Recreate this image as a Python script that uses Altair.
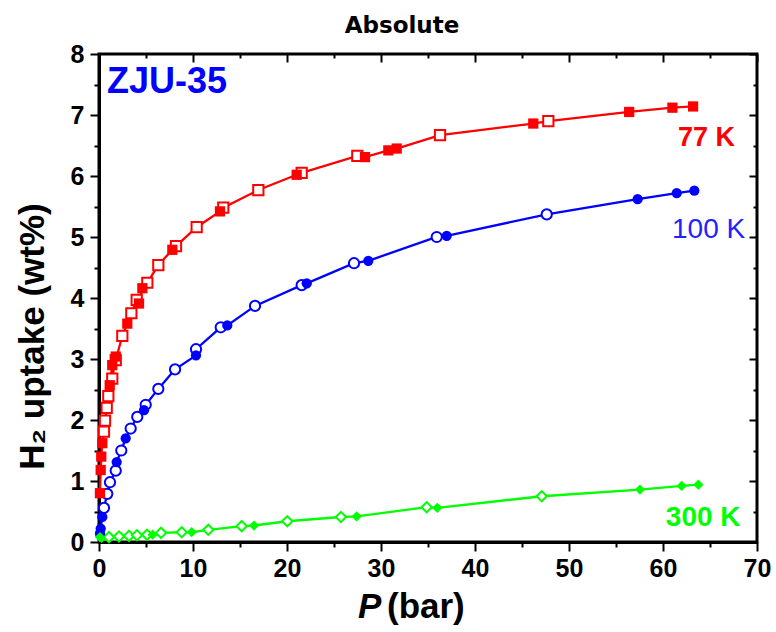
import altair as alt
import pandas as pd

# ---------------- data ----------------
series = ["77 K", "100 K", "300 K"]
series_colors = ["#FF0000", "#0000FF", "#00FF00"]
series_shapes = ["square", "circle", "diamond"]
open_sizes = [105, 105, 290]
filled_sizes = [100, 100, 270]

# 77 K  (squares)
p77_ads = [0.1, 0.18, 0.24, 0.35, 1.14, 1.41, 1.78, 3.01, 4.26, 4.61, 7.8, 12.87,
           21.03, 28.3, 30.78, 31.67, 46.2, 56.4, 61.0, 63.2]
u77_ads = [0.80, 1.18, 1.40, 1.62, 2.57, 2.90, 3.04, 3.58, 3.91, 4.16, 4.79, 5.42,
           6.02, 6.31, 6.42, 6.45, 6.86, 7.05, 7.12, 7.14]
p77_des = [0.53, 0.64, 0.82, 0.99, 1.41, 1.78, 2.48, 3.44, 4.01, 5.14, 6.31, 8.19,
           10.39, 13.22, 16.95, 21.56, 27.48, 36.28, 47.8]
u77_des = [1.81, 1.99, 2.20, 2.39, 2.68, 2.98, 3.38, 3.75, 3.97, 4.25, 4.54, 4.85,
           5.16, 5.48, 5.77, 6.05, 6.33, 6.67, 6.90]

# 100 K (circles)
p100_ads = [0.1, 0.18, 0.35, 1.88, 2.84, 4.79, 10.32, 13.65, 22.1, 28.65, 36.99,
            57.3, 61.46, 63.33]
u100_ads = [0.14, 0.22, 0.41, 1.31, 1.70, 2.16, 3.06, 3.55, 4.24, 4.61, 5.02,
            5.62, 5.72, 5.76]
p100_des = [0.53, 0.88, 1.17, 1.78, 2.37, 3.37, 4.07, 4.97, 6.31, 8.09, 10.32,
            12.95, 16.6, 21.56, 27.13, 35.93, 47.63]
u100_des = [0.56, 0.79, 0.98, 1.17, 1.50, 1.86, 2.05, 2.25, 2.51, 2.83, 3.16,
            3.52, 3.87, 4.21, 4.57, 5.00, 5.37]

# 300 K (diamonds)
p300_ads = [0.1, 5.7, 9.86, 16.49, 27.41, 35.99, 57.55, 61.99, 63.76]
u300_ads = [0.08, 0.12, 0.16, 0.27, 0.42, 0.56, 0.86, 0.92, 0.94]
p300_des = [0.29, 1.06, 2.13, 3.19, 4.04, 5.11, 6.6, 8.8, 11.63, 15.18, 20.03,
            25.74, 34.86, 47.1]
u300_des = [0.09, 0.08, 0.09, 0.10, 0.11, 0.12, 0.15, 0.16, 0.20, 0.26, 0.34,
            0.41, 0.57, 0.75]

# in-plot annotations
ann_text = ["ZJU-35", "77 K", "100 K", "300 K"]
ann_x = [0.85, 61.6, 60.96, 60.3]
ann_y = [7.36, 6.49, 4.99, 0.27]
ann_color = ["#0000FF", "#FF0000", "#2222FF", "#00FF00"]

x_major = [0, 10, 20, 30, 40, 50, 60, 70]
x_minor = [5, 15, 25, 35, 45, 55, 65]
y_major = [0, 1, 2, 3, 4, 5, 6, 7, 8]
y_minor = [0.5, 1.5, 2.5, 3.5, 4.5, 5.5, 6.5, 7.5]

# ---------------- tables ----------------
rows = []
for T, kind, P, U in [
    ("77 K", "ads", p77_ads, u77_ads), ("77 K", "des", p77_des, u77_des),
    ("100 K", "ads", p100_ads, u100_ads), ("100 K", "des", p100_des, u100_des),
    ("300 K", "ads", p300_ads, u300_ads), ("300 K", "des", p300_des, u300_des),
]:
    for p, u in zip(P, U):
        rows.append({"T": T, "kind": kind, "P": p, "U": u})
df = pd.DataFrame(rows)
df_ads = df[df.kind == "ads"]
df_des = df[df.kind == "des"]

FONT = "Liberation Sans, Arial, Helvetica, sans-serif"

xs = alt.Scale(domain=[0, 70], nice=False, zero=False)
ys = alt.Scale(domain=[0, 8], nice=False, zero=False)
cscale = alt.Scale(domain=series, range=series_colors)
sscale = alt.Scale(domain=series, range=series_shapes)

common = dict(grid=False, title=None, tickColor="black", tickWidth=2)

ax_bottom_major = alt.Axis(orient="bottom", values=x_major, tickSize=9, domain=True,
                           domainColor="black", domainWidth=3, labelFont=FONT,
                           labelFontSize=25, labelFontWeight="bold", labelColor="black",
                           labelPadding=5, labelFlush=False, labelOverlap=False, **common)
ax_bottom_minor = alt.Axis(orient="bottom", values=x_minor, tickSize=5, domain=False,
                           labels=False, **common)
ax_top_major = alt.Axis(orient="top", values=x_major, tickSize=8, offset=-8,
                        domain=False, labels=False, **common)
ax_top_minor = alt.Axis(orient="top", values=x_minor, tickSize=4, offset=-4,
                        domain=False, labels=False, **common)

ax_left_major = alt.Axis(orient="left", values=y_major, tickSize=9, domain=True,
                         domainColor="black", domainWidth=3, labelFont=FONT,
                         labelFontSize=25, labelFontWeight="bold", labelColor="black",
                         labelPadding=6, labelFlush=False, labelOverlap=False,
                         grid=False, tickColor="black", tickWidth=2,
                         title="H\u2082 uptake (wt%)", titleFont=FONT, titleFontSize=35,
                         titleFontWeight="bold", titleColor="black", titleAngle=270,
                         titleX=-56, titleY=282, titleAlign="center",
                         titleBaseline="alphabetic")
ax_left_minor = alt.Axis(orient="left", values=y_minor, tickSize=5, domain=False,
                         labels=False, **common)
ax_right_major = alt.Axis(orient="right", values=y_major, tickSize=8, offset=-8,
                          domain=False, labels=False, **common)
ax_right_minor = alt.Axis(orient="right", values=y_minor, tickSize=4, offset=-4,
                          domain=False, labels=False, **common)

lines = alt.Chart(df).mark_line(strokeWidth=2.3).encode(
    x=alt.X("P:Q", scale=xs, axis=ax_bottom_major),
    y=alt.Y("U:Q", scale=ys, axis=ax_left_major),
    color=alt.Color("T:N", scale=cscale, legend=None),
    order=alt.Order("P:Q"),
)

open_pts = alt.Chart(df_des).mark_point(filled=True, strokeWidth=2, opacity=1).encode(
    x=alt.X("P:Q", scale=xs, axis=ax_bottom_minor),
    y=alt.Y("U:Q", scale=ys, axis=ax_left_minor),
    fill=alt.value("white"),
    stroke=alt.Stroke("T:N", scale=cscale, legend=None),
    shape=alt.Shape("T:N", scale=sscale, legend=None),
    size=alt.Size("T:N", scale=alt.Scale(domain=series, range=open_sizes), legend=None),
)

filled_pts = alt.Chart(df_ads).mark_point(filled=True, opacity=1).encode(
    x=alt.X("P:Q", scale=xs, axis=ax_top_major),
    y=alt.Y("U:Q", scale=ys, axis=ax_right_major),
    color=alt.Color("T:N", scale=cscale, legend=None),
    shape=alt.Shape("T:N", scale=sscale, legend=None),
    size=alt.Size("T:N", scale=alt.Scale(domain=series, range=filled_sizes), legend=None),
)


def ann_layer(i, weight, size, axis_x=None, axis_y=None):
    d = pd.DataFrame({"label": [ann_text[i]], "P": [ann_x[i]], "U": [ann_y[i]]})
    return alt.Chart(d).mark_text(align="left", baseline="alphabetic", font=FONT,
                                  fontSize=size, fontWeight=weight,
                                  color=ann_color[i]).encode(
        x=alt.X("P:Q", scale=xs, axis=axis_x),
        y=alt.Y("U:Q", scale=ys, axis=axis_y),
        text="label:N",
    )


ann0 = ann_layer(0, "bold", 36, ax_top_minor, ax_right_minor)
ann1 = ann_layer(1, "bold", 27)
ann2 = ann_layer(2, "normal", 28)
ann3 = ann_layer(3, "bold", 28)

one = pd.DataFrame({"a": [0]})
title_txt = alt.Chart(one).mark_text(text="Absolute", font="DejaVu Sans", fontSize=23,
                                     fontWeight="bold", align="center",
                                     baseline="alphabetic", color="black").encode(
    x=alt.value(303), y=alt.value(-21))
xt_p = alt.Chart(one).mark_text(text="P", font=FONT, fontSize=35, fontWeight="bold",
                                fontStyle="italic", align="left", baseline="alphabetic",
                                color="black").encode(x=alt.value(259), y=alt.value(564))
xt_bar = alt.Chart(one).mark_text(text="(bar)", font=FONT, fontSize=35, fontWeight="bold",
                                  align="left", baseline="alphabetic",
                                  color="black").encode(x=alt.value(288), y=alt.value(564))

chart = alt.layer(
    lines, open_pts, filled_pts, ann0, ann1, ann2, ann3, title_txt, xt_p, xt_bar
).resolve_axis(x="independent", y="independent").properties(
    width=658, height=488,
    autosize=alt.AutoSizeParams(type="none"),
    padding={"left": 99, "top": 54, "right": 19, "bottom": 90},
    background="white",
).configure_view(stroke="black", strokeWidth=3)

chart.save("out.html", embed_options={"renderer": "svg", "actions": False})
